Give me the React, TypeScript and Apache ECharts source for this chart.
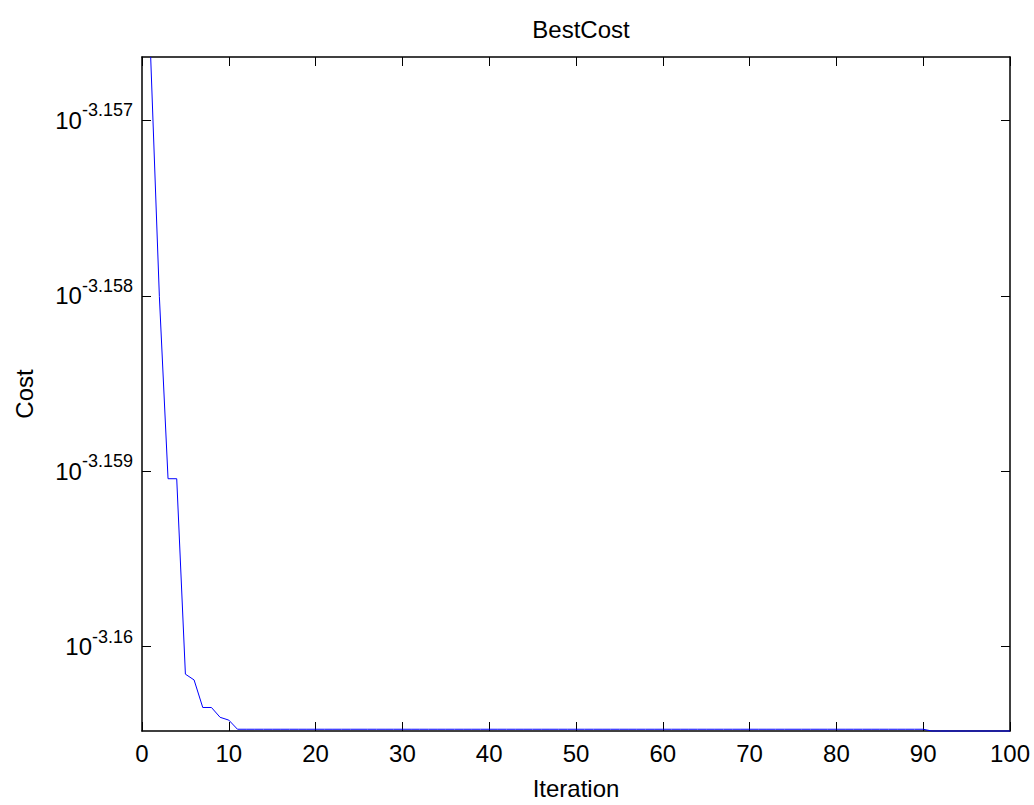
import React, { useEffect, useRef } from "react";
import * as echarts from "echarts";

// Iteration axis ticks
const xTicks = [0, 10, 20, 30, 40, 50, 60, 70, 80, 90, 100];

// log10(BestCost) per iteration (iterations 1..100)
const bestCostLog10 = [
  -3.156639, -3.158004, -3.159043, -3.159043, -3.160157, -3.16019, -3.160347, -3.160347, -3.160403, -3.160419,
  -3.160471, -3.160471, -3.160471, -3.160471, -3.160471, -3.160471, -3.160471, -3.160471, -3.160471, -3.160471,
  -3.160471, -3.160471, -3.160471, -3.160471, -3.160471, -3.160471, -3.160471, -3.160471, -3.160471, -3.160471,
  -3.160471, -3.160471, -3.160471, -3.160471, -3.160471, -3.160471, -3.160471, -3.160471, -3.160471, -3.160471,
  -3.160471, -3.160471, -3.160471, -3.160471, -3.160471, -3.160471, -3.160471, -3.160471, -3.160471, -3.160471,
  -3.160471, -3.160471, -3.160471, -3.160471, -3.160471, -3.160471, -3.160471, -3.160471, -3.160471, -3.160471,
  -3.160471, -3.160471, -3.160471, -3.160471, -3.160471, -3.160471, -3.160471, -3.160471, -3.160471, -3.160471,
  -3.160471, -3.160471, -3.160471, -3.160471, -3.160471, -3.160471, -3.160471, -3.160471, -3.160471, -3.160471,
  -3.160471, -3.160471, -3.160471, -3.160471, -3.160471, -3.160471, -3.160471, -3.160471, -3.160471, -3.160471,
  -3.160481, -3.160481, -3.160481, -3.160481, -3.160481, -3.160481, -3.160481, -3.160481, -3.160481, -3.160481,
];

// y tick exponents (log scale, labels shown as 10^exp)
const yTickValues = [-3.16, -3.159, -3.158, -3.157];
const yTickLabels = ["-3.16", "-3.159", "-3.158", "-3.157"];

const FONT = "'Liberation Sans', Arial, Helvetica, sans-serif";

export default function App() {
  const ref = useRef<HTMLDivElement>(null);

  useEffect(() => {
    document.body.style.margin = "0";
    if (!ref.current) return;
    const chart = echarts.init(ref.current, undefined, { renderer: "svg" });

    const yMin = Math.min(...bestCostLog10);
    const yMax = Math.max(...bestCostLog10);
    const data = bestCostLog10.map((v, i) => [i + 1, v]);

    const axisLine = { show: true, onZero: false, lineStyle: { color: "#000", width: 1.5 } };
    const tick = { show: true, inside: true, length: 9, lineStyle: { color: "#000", width: 1 } };

    chart.setOption({
      animation: false,
      backgroundColor: "#fff",
      title: {
        text: "BestCost",
        left: 576,
        textAlign: "center",
        top: 12,
        textStyle: { fontFamily: FONT, fontSize: 24, fontWeight: "normal", color: "#000" },
      },
      grid: { left: 142, top: 57, width: 868, height: 684, containLabel: false },
      xAxis: [
        {
          type: "value",
          min: 0,
          max: 100,
          interval: 10,
          position: "bottom",
          name: "Iteration",
          nameLocation: "middle",
          nameGap: 45,
          nameTextStyle: { fontFamily: FONT, fontSize: 24, color: "#000" },
          axisLine,
          axisTick: { ...tick, customValues: xTicks },
          axisLabel: {
            customValues: xTicks,
            fontFamily: FONT,
            fontSize: 24,
            color: "#000",
            margin: 10,
          },
          splitLine: { show: false },
        },
        {
          type: "value",
          min: 0,
          max: 100,
          interval: 10,
          position: "top",
          axisLine,
          axisTick: { ...tick, customValues: xTicks },
          axisLabel: { show: false },
          splitLine: { show: false },
        },
      ],
      yAxis: [
        {
          type: "value",
          min: yMin,
          max: yMax,
          position: "left",
          name: "Cost",
          nameLocation: "middle",
          nameGap: 106,
          nameTextStyle: { fontFamily: FONT, fontSize: 24, color: "#000" },
          axisLine,
          axisTick: { ...tick, customValues: yTickValues },
          axisLabel: {
            customValues: yTickValues,
            margin: 9,
            formatter: (v: number) => {
              let best = 0;
              yTickValues.forEach((t, i) => {
                if (Math.abs(t - v) < Math.abs(yTickValues[best] - v)) best = i;
              });
              return `{b|10}{s|${yTickLabels[best]}}`;
            },
            rich: {
              b: { fontFamily: FONT, fontSize: 24, color: "#000", lineHeight: 38, verticalAlign: "middle" },
              s: { fontFamily: FONT, fontSize: 18, color: "#000", lineHeight: 12, verticalAlign: "top" },
            },
          },
          splitLine: { show: false },
        },
        {
          type: "value",
          min: yMin,
          max: yMax,
          position: "right",
          axisLine,
          axisTick: { ...tick, customValues: yTickValues },
          axisLabel: { show: false },
          splitLine: { show: false },
        },
      ],
      series: [
        {
          type: "line",
          data,
          xAxisIndex: 0,
          yAxisIndex: 0,
          showSymbol: false,
          symbol: "none",
          lineStyle: { color: "#0000ff", width: 1 },
          clip: false,
          z: 3,
        },
      ],
    });

    return () => chart.dispose();
  }, []);

  return <div ref={ref} style={{ width: 1034, height: 805 }} />;
}
